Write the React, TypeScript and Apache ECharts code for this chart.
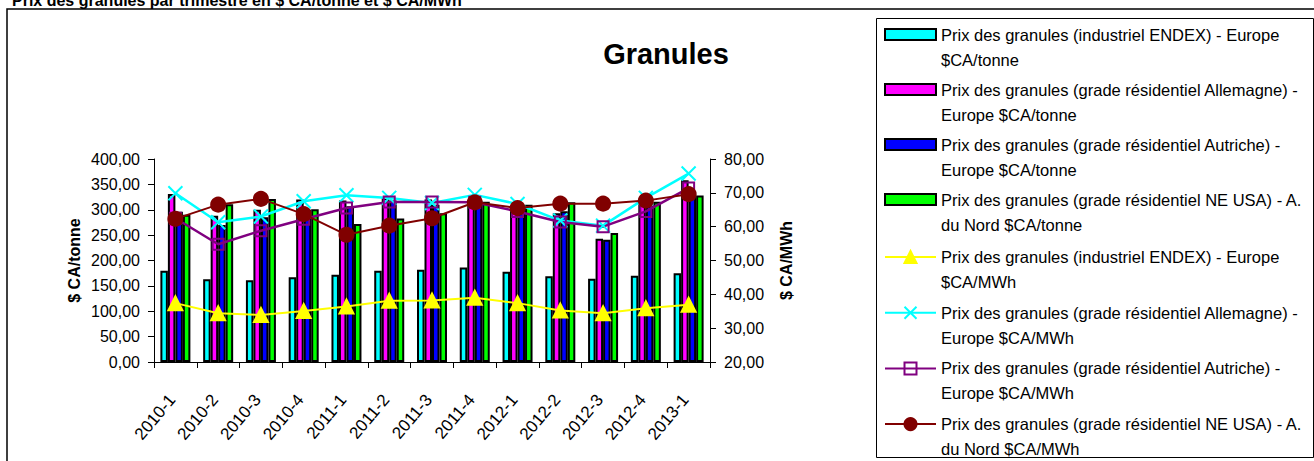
import React, { useEffect, useRef } from "react";
import * as echarts from "echarts";

const categories = ["2010-1", "2010-2", "2010-3", "2010-4", "2011-1", "2011-2", "2011-3", "2011-4", "2012-1", "2012-2", "2012-3", "2012-4", "2013-1"];

const endexTonne = [180, 163, 161, 167, 172, 180, 182, 186, 178, 169, 164, 170, 175];
const allemagneTonne = [331, 288, 300, 320, 318, 323, 320, 318, 306, 293, 243, 312, 358];
const autricheTonne = [296, 270, 285, 300, 307, 318, 310, 317, 306, 297, 241, 308, 336];
const neUsaTonne = [290, 311, 321, 301, 272, 283, 293, 316, 310, 315, 254, 316, 328];

const endexMWh = [37.4, 34.4, 33.9, 35.1, 36.4, 38.1, 38.2, 39.0, 37.4, 35.2, 34.4, 35.9, 36.9];
const allemagneMWh = [69.9, 61.3, 63.0, 67.5, 69.3, 68.5, 67.0, 69.4, 66.7, 61.8, 60.3, 68.5, 75.7];
const autricheMWh = [62.5, 54.8, 58.8, 62.2, 65.5, 67.3, 67.3, 67.2, 64.5, 61.4, 60.0, 64.5, 71.4];
const neUsaMWh = [62.3, 66.5, 68.2, 63.7, 57.6, 60.3, 62.5, 67.2, 65.5, 66.8, 66.8, 67.7, 69.6];

const seriesNames = [
  "Prix des granules (industriel ENDEX) - Europe $CA/tonne",
  "Prix des granules (grade résidentiel Allemagne) - Europe $CA/tonne",
  "Prix des granules (grade résidentiel Autriche) - Europe $CA/tonne",
  "Prix des granules (grade résidentiel NE USA) - A. du Nord $CA/tonne",
  "Prix des granules (industriel ENDEX) - Europe $CA/MWh",
  "Prix des granules (grade résidentiel Allemagne) - Europe $CA/MWh",
  "Prix des granules (grade résidentiel Autriche) - Europe $CA/MWh",
  "Prix des granules (grade résidentiel NE USA) - A. du Nord $CA/MWh",
];

const legendLines: [string, string][] = [
  ["Prix des granules (industriel ENDEX) - Europe", "$CA/tonne"],
  ["Prix des granules (grade résidentiel Allemagne) -", "Europe $CA/tonne"],
  ["Prix des granules (grade résidentiel Autriche) -", "Europe $CA/tonne"],
  ["Prix des granules (grade résidentiel NE USA) - A.", "du Nord $CA/tonne"],
  ["Prix des granules (industriel ENDEX) - Europe", "$CA/MWh"],
  ["Prix des granules (grade résidentiel Allemagne) -", "Europe $CA/MWh"],
  ["Prix des granules (grade résidentiel Autriche) -", "Europe $CA/MWh"],
  ["Prix des granules (grade résidentiel NE USA) - A.", "du Nord $CA/MWh"],
];

const pageTitle = "Prix des granules par trimestre en $ CA/tonne et $ CA/MWh";
const chartTitle = "Granules";
const leftAxisName = "$ CA/tonne";
const rightAxisName = "$ CA/MWh";

const FONT = '"Liberation Sans", Arial, sans-serif';

const fmt = (v: number) => v.toFixed(2).replace(".", ",");

const legendFormatter = (name: string) => {
  const i = seriesNames.indexOf(name);
  if (i < 0) return name;
  return "\n" + legendLines[i][0] + "\n" + legendLines[i][1];
};

export default function App() {
  const ref = useRef<HTMLDivElement>(null);

  useEffect(() => {
    if (!ref.current) return;
    const chart = echarts.init(ref.current, null, { renderer: "svg" });

    const barColors = ["#00FFFF", "#FF00FF", "#0000FF", "#00FF00"];
    const barData = [endexTonne, allemagneTonne, autricheTonne, neUsaTonne];
    const lineData = [endexMWh, allemagneMWh, autricheMWh, neUsaMWh];

    const barSeries = barData.map((d, i) => ({
      name: seriesNames[i],
      type: "bar",
      yAxisIndex: 0,
      data: d,
      barWidth: 7.5,
      barGap: "0%",
      itemStyle: { color: barColors[i], borderColor: "#000", borderWidth: 2 },
    }));

    const lineStyles = [
      { color: "#FFFF00", symbol: "triangle", size: 14, fill: "#FFFF00", width: 2 },
      { color: "#00FFFF", symbol: "path://M0,0L10,10M10,0L0,10", size: 14, fill: "#00FFFF", width: 2.5 },
      { color: "#800080", symbol: "rect", size: 11, fill: "rgba(0,0,0,0)", width: 2.5 },
      { color: "#800000", symbol: "circle", size: 14, fill: "#800000", width: 2 },
    ];

    const lineSeries = lineData.map((d, i) => ({
      name: seriesNames[i + 4],
      type: "line",
      yAxisIndex: 1,
      data: d,
      symbol: lineStyles[i].symbol,
      symbolSize: lineStyles[i].size,
      showSymbol: true,
      lineStyle: { color: lineStyles[i].color, width: lineStyles[i].width },
      itemStyle: {
        color: lineStyles[i].fill,
        borderColor: lineStyles[i].color,
        borderWidth: 2,
      },
    }));

    const legendText = { fontSize: 16.5, lineHeight: 25, color: "#000", fontFamily: FONT };

    const option: any = {
      animation: false,
      backgroundColor: "#fff",
      textStyle: { fontFamily: FONT },
      grid: {
        left: 154,
        right: 604,
        top: 159,
        bottom: 99,
        containLabel: false,
        outerBoundsMode: "none",
      },
      legend: [
        {
          orient: "vertical",
          left: 884,
          top: -3,
          height: 260,
          padding: 0,
          itemGap: -20,
          itemWidth: 51,
          itemHeight: 11,
          icon: "rect",
          data: seriesNames.slice(0, 4),
          formatter: legendFormatter,
          textStyle: legendText,
        },
        {
          orient: "vertical",
          left: 884,
          top: 219.5,
          height: 260,
          padding: 0,
          itemGap: -19.3,
          itemWidth: 51,
          itemHeight: 15,
          data: seriesNames.slice(4),
          formatter: legendFormatter,
          textStyle: legendText,
        },
      ],
      xAxis: {
        type: "category",
        data: categories,
        boundaryGap: true,
        axisLine: { show: true, lineStyle: { color: "#000", width: 1 } },
        axisTick: { show: true, alignWithLabel: false, length: 6, lineStyle: { color: "#000" } },
        axisLabel: {
          interval: 0,
          rotate: 50,
          margin: 31,
          padding: [0, 5, 0, 0],
          fontSize: 17,
          color: "#000",
          fontFamily: FONT,
        },
        splitLine: { show: false },
      },
      yAxis: [
        {
          type: "value",
          min: 0,
          max: 400,
          interval: 50,
          position: "left",
          name: leftAxisName,
          nameLocation: "middle",
          nameRotate: 90,
          nameGap: 72,
          nameTextStyle: { fontSize: 16, fontWeight: "bold", color: "#000", fontFamily: FONT },
          axisLine: { show: true, lineStyle: { color: "#000", width: 1 } },
          axisTick: { show: true, length: 6, lineStyle: { color: "#000" } },
          axisLabel: { formatter: fmt, fontSize: 16, color: "#000", margin: 14, fontFamily: FONT },
          splitLine: { show: false },
        },
        {
          type: "value",
          min: 20,
          max: 80,
          interval: 10,
          position: "right",
          name: rightAxisName,
          nameLocation: "middle",
          nameRotate: 90,
          nameGap: 68,
          nameTextStyle: { fontSize: 16, fontWeight: "bold", color: "#000", fontFamily: FONT },
          axisLine: { show: true, lineStyle: { color: "#000", width: 1 } },
          axisTick: { show: true, length: 6, lineStyle: { color: "#000" } },
          axisLabel: { formatter: fmt, fontSize: 16, color: "#000", margin: 14, fontFamily: FONT },
          splitLine: { show: false },
        },
      ],
      graphic: [
        {
          type: "rect",
          z: -10,
          shape: { x: 7, y: 9, width: 1400, height: 500 },
          style: { fill: "#fff", stroke: "#000", lineWidth: 1.5 },
        },
        {
          type: "rect",
          z: -5,
          shape: { x: 876.5, y: 18.5, width: 437, height: 439 },
          style: { fill: "#fff", stroke: "#000", lineWidth: 1 },
        },
        {
          type: "text",
          x: 12,
          y: 0.5,
          style: {
            text: pageTitle,
            font: `bold 16px ${FONT}`,
            fill: "#000",
            verticalAlign: "middle",
            align: "left",
          },
        },
        {
          type: "text",
          x: 666,
          y: 54,
          style: {
            text: chartTitle,
            font: `bold 29px ${FONT}`,
            fill: "#000",
            verticalAlign: "middle",
            align: "center",
          },
        },
      ],
      series: [...barSeries, ...lineSeries],
    };

    chart.setOption(option);
    return () => chart.dispose();
  }, []);

  return (
    <div
      ref={ref}
      style={{ position: "fixed", left: 0, top: 0, width: 1314, height: 461, background: "#fff" }}
    />
  );
}
